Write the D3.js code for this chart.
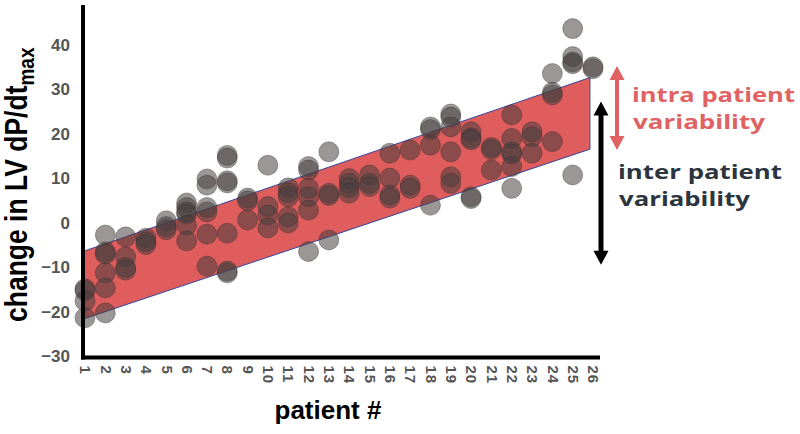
<!DOCTYPE html>
<html>
<head>
<meta charset="utf-8">
<script src="https://cdn.jsdelivr.net/npm/d3@7"></script>
<style>
  body { margin: 0; background: #fff; }
</style>
</head>
<body>
<svg id="chart" width="800" height="434"></svg>
<script>
// patient numbers on the x axis
const patients = [1, 2, 3, 4, 5, 6, 7, 8, 9, 10, 11, 12, 13, 14, 15, 16, 17, 18, 19, 20, 21, 22, 23, 24, 25, 26];

// change in LV dP/dt max, one list of repeated measurements per patient
const measurements = [
    [-14.8, -15.2, -17.5, -21.3],
    [-2.7, -6.5, -7, -11.2, -14.6, -20.2],
    [-3.1, -7.6, -10, -10.6],
    [-3.4, -4.2, -4.8],
    [0.5, -0.8, -1.5],
    [4.5, 3.5, 2.5, 2.0, -0.5, -4.0],
    [9.9, 8.5, 3.5, 2.5, -2.5, -9.7],
    [15.2, 14.6, 9.5, 9.0, -2.3, -11.2, -10.8],
    [5.6, 5.0, 0.7],
    [13, 3.7, 1.8, -1.1],
    [7.9, 6.8, 5.9, 1.4, 0],
    [12.7, 11.9, 7.8, 5.9, 2.9, -6.4],
    [16, 6.7, 6.2, -3.8],
    [10, 8.9, 7.9, 6.7],
    [10.8, 8.9, 8.2],
    [15.7, 10.1, 6.3, 5.6],
    [16.4, 8.5, 7.8],
    [21.6, 21, 17.5, 4],
    [24.5, 23.8, 21.6, 16, 10.4, 8.9],
    [20.5, 19.1, 18.7, 5.9, 5.5],
    [17, 16.5, 11.9],
    [24.3, 19, 16, 15.5, 12.7, 7.8],
    [20.5, 19.4, 15.7],
    [33.6, 29.4, 28.8, 18.3],
    [43.7, 37.4, 36.2, 35.8, 10.8],
    [35.1, 34.7]
];

const yTicks = [-30, -20, -10, 0, 10, 20, 30, 40];

// red band (intra patient spread around the trend)
const bandPatients = [0.9, 25.85];
const bandLower = [-21.6, 16.6];
const bandUpper = [-6.4, 32.7];

// arrow ranges
const intraRange = [16.4, 35.3];
const interRange = [-9.4, 27.3];

(function() {
    const svg = d3.select("#chart");

    const x = d3.scaleLinear()
        .domain([1, 26])
        .range([85, 593]);

    const y = d3.scaleLinear()
        .domain([-30, 49])
        .range([356.5, 5]);

    const axisX = 83,
        axisY = 357.5;

    // band
    const bandPts = bandPatients.map((p, i) => [x(p), y(bandUpper[i])])
        .concat(bandPatients.slice().reverse().map((p, i) => [x(p), y(bandLower[bandPatients.length - 1 - i])]));

    svg.append("path")
        .attr("d", "M" + bandPts.join("L") + "Z")
        .attr("fill", "#df5d5d")
        .attr("stroke", "#34469a")
        .attr("stroke-width", 1);

    // points
    const points = [];
    measurements.forEach((vals, i) => vals.forEach(v => points.push({p: patients[i], v: v})));

    svg.append("g")
        .selectAll("circle")
        .data(points)
        .join("circle")
        .attr("cx", d => x(d.p))
        .attr("cy", d => y(d.v))
        .attr("r", 10)
        .attr("fill", "#463e3e")
        .attr("fill-opacity", 0.54)
        .attr("stroke", "#2e2828")
        .attr("stroke-opacity", 0.45)
        .attr("stroke-width", 0.8);

    // y axis labels
    const yAxis = svg.append("g")
        .attr("transform", `translate(${axisX},0)`)
        .call(d3.axisLeft(y).tickValues(yTicks).tickSize(0).tickPadding(13));
    yAxis.select(".domain").remove();
    yAxis.selectAll("text")
        .attr("fill", "#555")
        .style("font-family", "'Liberation Sans', Arial, sans-serif")
        .style("font-weight", "bold")
        .style("font-size", "17px");

    // x axis labels, rotated
    const xAxis = svg.append("g")
        .attr("transform", `translate(0,${axisY})`)
        .call(d3.axisBottom(x).tickValues(patients).tickSize(0));
    xAxis.select(".domain").remove();
    xAxis.selectAll("text")
        .attr("fill", "#555")
        .attr("transform", "rotate(90)")
        .attr("x", 8)
        .attr("y", 0)
        .attr("dy", "0.35em")
        .attr("text-anchor", "start")
        .style("font-family", "'Liberation Sans', Arial, sans-serif")
        .style("font-weight", "bold")
        .style("font-size", "15px")
        .style("letter-spacing", "1px");

    // axis lines
    svg.append("line")
        .attr("x1", axisX).attr("x2", axisX)
        .attr("y1", y(49)).attr("y2", axisY + 2)
        .attr("stroke", "#000").attr("stroke-width", 4);
    svg.append("line")
        .attr("x1", axisX - 2).attr("x2", 600)
        .attr("y1", axisY).attr("y2", axisY)
        .attr("stroke", "#000").attr("stroke-width", 4);

    // axis titles
    const yTitle = svg.append("text")
        .attr("transform", `translate(27,${(y(-30) + y(49)) / 2 + 4}) rotate(-90) scale(1,1.15)`)
        .attr("text-anchor", "middle")
        .style("font-family", "'Liberation Sans', Arial, sans-serif")
        .style("font-weight", "bold")
        .style("font-size", "26.5px")
        .attr("fill", "#000");
    yTitle.append("tspan").text("change in LV dP/dt");
    yTitle.append("tspan").attr("dy", 6).style("font-size", "19px").text("max");

    svg.append("text")
        .attr("x", 328)
        .attr("y", 419)
        .attr("text-anchor", "middle")
        .style("font-family", "'Liberation Sans', Arial, sans-serif")
        .style("font-weight", "bold")
        .style("font-size", "26px")
        .attr("fill", "#000")
        .text("patient #");

    // double arrows
    function doubleArrow(cx, range, color, width, head) {
        const g = svg.append("g");
        const yTop = y(range[1]), yBot = y(range[0]);
        g.append("line")
            .attr("x1", cx).attr("x2", cx)
            .attr("y1", yTop + head).attr("y2", yBot - head)
            .attr("stroke", color).attr("stroke-width", width);
        g.append("path")
            .attr("d", `M${cx},${yTop}L${cx - head / 2 - 1},${yTop + head + 1}L${cx + head / 2 + 1},${yTop + head + 1}Z`)
            .attr("fill", color);
        g.append("path")
            .attr("d", `M${cx},${yBot}L${cx - head / 2 - 1},${yBot - head - 1}L${cx + head / 2 + 1},${yBot - head - 1}Z`)
            .attr("fill", color);
    }
    doubleArrow(x(26) + 24, intraRange, "#e06262", 4, 13);
    doubleArrow(x(26) + 8, interRange, "#000", 5, 13);

    // annotations
    const notes = [
        {text: "intra patient", x: 632, y: 102, len: 163, color: "#e06262"},
        {text: "variability", x: 633, y: 129, len: 132, color: "#e06262"},
        {text: "inter patient", x: 618, y: 179, len: 164, color: "#2c353d"},
        {text: "variability", x: 619, y: 206, len: 131, color: "#2c353d"}
    ];
    svg.append("g")
        .selectAll("text")
        .data(notes)
        .join("text")
        .attr("x", d => d.x)
        .attr("y", d => d.y)
        .attr("textLength", d => d.len)
        .attr("lengthAdjust", "spacingAndGlyphs")
        .style("font-family", "'Open Sans', sans-serif")
        .style("font-weight", "bold")
        .style("font-size", "20px")
        .attr("fill", d => d.color)
        .text(d => d.text);
})();
</script>
</body>
</html>
